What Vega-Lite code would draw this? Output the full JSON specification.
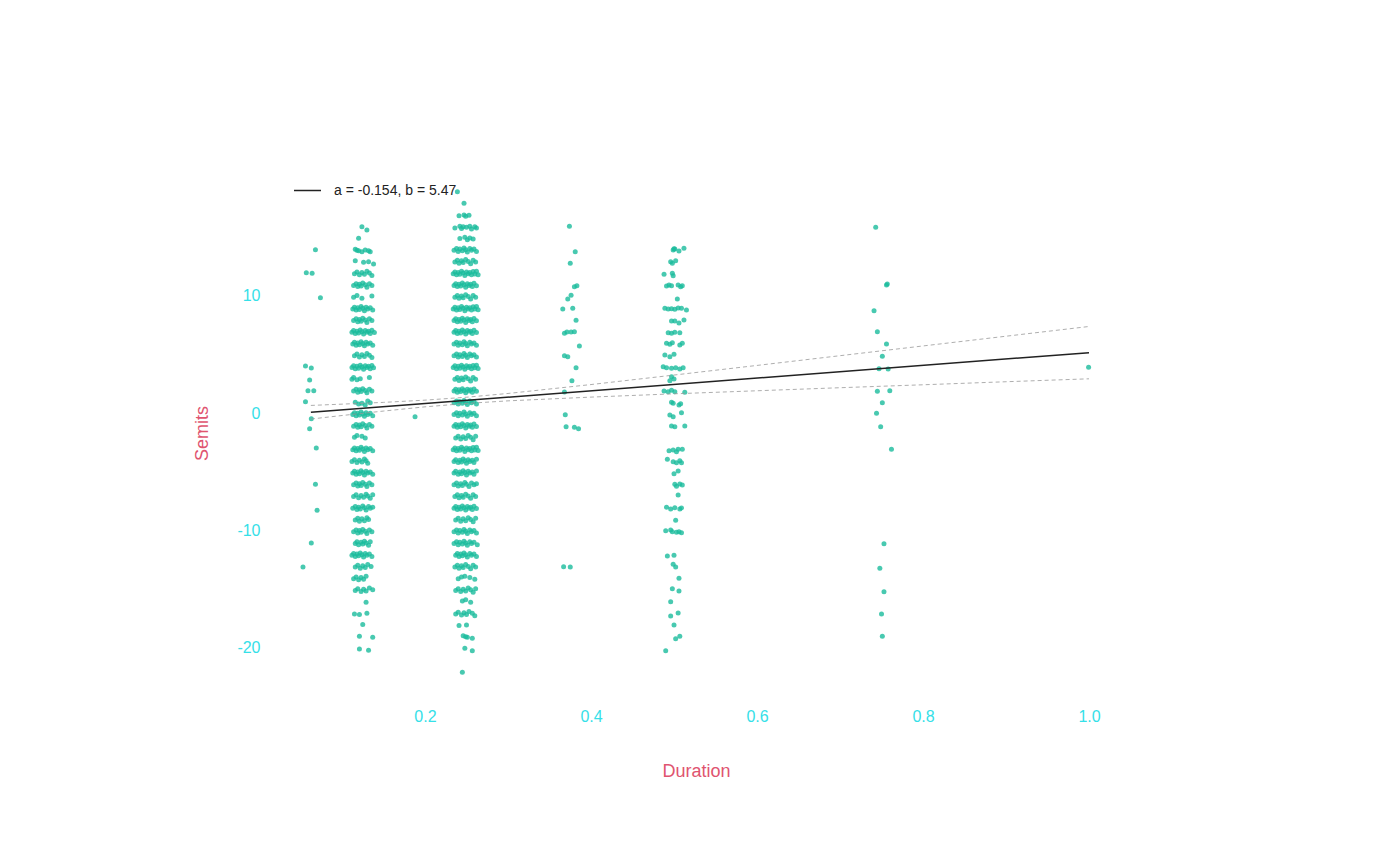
{
  "$schema": "https://vega.github.io/schema/vega-lite/v6.json",
  "description": "Semits by duration, jittered, with a linear fit",
  "width": 862,
  "height": 530,
  "autosize": "none",
  "padding": {"left": 265, "top": 168, "right": 273, "bottom": 167},
  "background": "white",
  "config": {"view": {"stroke": null}, "font": "Liberation Sans"},
  "datasets": {
    "pts": [
      {"d":0.068,"s":13.95},{"d":0.057,"s":11.99},{"d":0.064,"s":11.94},{"d":0.074,"s":9.86},{"d":0.056,"s":4.03},{"d":0.063,"s":3.86},{"d":0.061,"s":2.84},{"d":0.059,"s":1.93},{"d":0.066,"s":1.93},{"d":0.056,"s":0.99},{"d":0.063,"s":-0.46},{"d":0.061,"s":-1.31},{"d":0.069,"s":-2.96},{"d":0.068,"s":-6.05},{"d":0.07,"s":-8.27},{"d":0.063,"s":-11.06},{"d":0.053,"s":-13.1},
      {"d":0.188,"s":-0.29},

      {"d":0.124,"s":15.9},{"d":0.13,"s":15.63},{"d":0.12,"s":14.92},
      {"d":0.116,"s":13.98},{"d":0.12,"s":13.86},{"d":0.124,"s":13.78},{"d":0.128,"s":13.92},{"d":0.132,"s":13.86},{"d":0.134,"s":13.78},{"d":0.118,"s":13.9},
      {"d":0.116,"s":13.01},{"d":0.126,"s":12.87},{"d":0.132,"s":12.92},{"d":0.138,"s":12.73},
      {"d":0.115,"s":11.9},{"d":0.118,"s":12.05},{"d":0.121,"s":11.8},{"d":0.124,"s":12},{"d":0.127,"s":11.85},{"d":0.13,"s":12.1},{"d":0.133,"s":11.95},{"d":0.136,"s":11.75},
      {"d":0.114,"s":10.9},{"d":0.117,"s":11.05},{"d":0.119,"s":10.8},{"d":0.121,"s":11},{"d":0.123,"s":10.85},{"d":0.125,"s":11.1},{"d":0.128,"s":10.95},{"d":0.13,"s":10.75},{"d":0.133,"s":11.05},{"d":0.136,"s":10.9},
      {"d":0.114,"s":9.9},{"d":0.118,"s":10.05},{"d":0.124,"s":9.8},{"d":0.136,"s":10},
      {"d":0.113,"s":8.9},{"d":0.115,"s":9.05},{"d":0.117,"s":8.8},{"d":0.119,"s":9},{"d":0.121,"s":8.85},{"d":0.123,"s":9.1},{"d":0.125,"s":8.95},{"d":0.127,"s":8.75},{"d":0.129,"s":9.05},{"d":0.131,"s":8.9},{"d":0.134,"s":9},{"d":0.137,"s":8.8},
      {"d":0.114,"s":7.9},{"d":0.117,"s":8.05},{"d":0.119,"s":7.8},{"d":0.121,"s":8},{"d":0.123,"s":7.85},{"d":0.125,"s":8.1},{"d":0.128,"s":7.95},{"d":0.13,"s":7.75},{"d":0.133,"s":8.05},{"d":0.136,"s":7.9},
      {"d":0.112,"s":6.9},{"d":0.114,"s":7.05},{"d":0.116,"s":6.8},{"d":0.118,"s":7},{"d":0.12,"s":6.85},{"d":0.122,"s":7.1},{"d":0.124,"s":6.95},{"d":0.126,"s":6.75},{"d":0.128,"s":7.05},{"d":0.13,"s":6.9},{"d":0.132,"s":7},{"d":0.134,"s":6.8},{"d":0.136,"s":7.08},{"d":0.139,"s":6.88},
      {"d":0.113,"s":5.9},{"d":0.115,"s":6.05},{"d":0.117,"s":5.8},{"d":0.119,"s":6},{"d":0.121,"s":5.85},{"d":0.123,"s":6.1},{"d":0.125,"s":5.95},{"d":0.127,"s":5.75},{"d":0.129,"s":6.05},{"d":0.131,"s":5.9},{"d":0.134,"s":6},{"d":0.137,"s":5.8},
      {"d":0.115,"s":4.9},{"d":0.118,"s":5.05},{"d":0.121,"s":4.8},{"d":0.124,"s":5},{"d":0.127,"s":4.85},{"d":0.13,"s":5.1},{"d":0.133,"s":4.95},{"d":0.136,"s":4.75},
      {"d":0.112,"s":3.9},{"d":0.114,"s":4.05},{"d":0.116,"s":3.8},{"d":0.118,"s":4},{"d":0.12,"s":3.85},{"d":0.122,"s":4.1},{"d":0.124,"s":3.95},{"d":0.126,"s":3.75},{"d":0.128,"s":4.05},{"d":0.13,"s":3.9},{"d":0.132,"s":4},{"d":0.134,"s":3.8},{"d":0.136,"s":4.08},{"d":0.138,"s":3.88},
      {"d":0.112,"s":2.9},{"d":0.114,"s":3.05},{"d":0.118,"s":2.85},{"d":0.122,"s":2.95},{"d":0.133,"s":3.05},
      {"d":0.114,"s":1.9},{"d":0.117,"s":2.05},{"d":0.119,"s":1.8},{"d":0.121,"s":2},{"d":0.123,"s":1.85},{"d":0.125,"s":2.1},{"d":0.128,"s":1.95},{"d":0.13,"s":1.75},{"d":0.133,"s":2.05},{"d":0.136,"s":1.9},
      {"d":0.116,"s":0.95},{"d":0.12,"s":0.8},{"d":0.124,"s":0.85},{"d":0.128,"s":0.7},{"d":0.134,"s":0.9},{"d":0.131,"s":1.05},
      {"d":0.113,"s":-0.1},{"d":0.115,"s":0.05},{"d":0.117,"s":-0.2},{"d":0.119,"s":0},{"d":0.121,"s":-0.15},{"d":0.123,"s":0.1},{"d":0.125,"s":-0.05},{"d":0.127,"s":-0.25},{"d":0.129,"s":0.05},{"d":0.131,"s":-0.1},{"d":0.134,"s":0},{"d":0.137,"s":-0.2},
      {"d":0.114,"s":-1.1},{"d":0.117,"s":-0.95},{"d":0.119,"s":-1.2},{"d":0.121,"s":-1},{"d":0.123,"s":-1.15},{"d":0.125,"s":-0.9},{"d":0.128,"s":-1.05},{"d":0.13,"s":-1.25},{"d":0.133,"s":-0.95},{"d":0.136,"s":-1.1},
      {"d":0.115,"s":-2.05},{"d":0.118,"s":-1.9},{"d":0.124,"s":-1.95},{"d":0.128,"s":-2.1},
      {"d":0.113,"s":-3.1},{"d":0.115,"s":-2.95},{"d":0.117,"s":-3.2},{"d":0.119,"s":-3},{"d":0.121,"s":-3.15},{"d":0.123,"s":-2.9},{"d":0.125,"s":-3.05},{"d":0.127,"s":-3.25},{"d":0.129,"s":-2.95},{"d":0.131,"s":-3.1},{"d":0.134,"s":-3},{"d":0.137,"s":-3.2},
      {"d":0.112,"s":-4.1},{"d":0.115,"s":-3.95},{"d":0.118,"s":-4.2},{"d":0.121,"s":-4},{"d":0.124,"s":-4.15},{"d":0.127,"s":-3.9},{"d":0.129,"s":-4.05},{"d":0.131,"s":-4.25},
      {"d":0.113,"s":-5.1},{"d":0.115,"s":-4.95},{"d":0.117,"s":-5.2},{"d":0.119,"s":-5},{"d":0.121,"s":-5.15},{"d":0.123,"s":-4.9},{"d":0.125,"s":-5.05},{"d":0.127,"s":-5.25},{"d":0.129,"s":-4.95},{"d":0.131,"s":-5.1},{"d":0.134,"s":-5},{"d":0.137,"s":-5.2},
      {"d":0.114,"s":-6.1},{"d":0.117,"s":-5.95},{"d":0.119,"s":-6.2},{"d":0.121,"s":-6},{"d":0.123,"s":-6.15},{"d":0.125,"s":-5.9},{"d":0.128,"s":-6.05},{"d":0.13,"s":-6.25},{"d":0.133,"s":-5.95},{"d":0.136,"s":-6.1},
      {"d":0.114,"s":-7.1},{"d":0.117,"s":-6.95},{"d":0.12,"s":-7.2},{"d":0.123,"s":-7},{"d":0.126,"s":-7.15},{"d":0.129,"s":-6.9},{"d":0.131,"s":-7.05},{"d":0.134,"s":-7.25},{"d":0.137,"s":-6.95},
      {"d":0.113,"s":-8.1},{"d":0.116,"s":-7.95},{"d":0.118,"s":-8.2},{"d":0.12,"s":-8},{"d":0.122,"s":-8.15},{"d":0.125,"s":-7.9},{"d":0.127,"s":-8.05},{"d":0.129,"s":-8.25},{"d":0.132,"s":-7.95},{"d":0.134,"s":-8.1},{"d":0.137,"s":-8},
      {"d":0.116,"s":-9.1},{"d":0.119,"s":-8.95},{"d":0.121,"s":-9.2},{"d":0.124,"s":-9},{"d":0.127,"s":-9.15},{"d":0.13,"s":-8.9},{"d":0.132,"s":-9.05},
      {"d":0.114,"s":-10.1},{"d":0.117,"s":-9.95},{"d":0.119,"s":-10.2},{"d":0.121,"s":-10},{"d":0.123,"s":-10.15},{"d":0.125,"s":-9.9},{"d":0.128,"s":-10.05},{"d":0.13,"s":-10.25},{"d":0.133,"s":-9.95},{"d":0.136,"s":-10.1},
      {"d":0.116,"s":-11.1},{"d":0.118,"s":-10.95},{"d":0.12,"s":-11.2},{"d":0.123,"s":-11},{"d":0.125,"s":-11.15},{"d":0.127,"s":-10.9},{"d":0.129,"s":-11.05},{"d":0.132,"s":-11.25},{"d":0.134,"s":-10.95},
      {"d":0.112,"s":-12.1},{"d":0.114,"s":-11.95},{"d":0.116,"s":-12.2},{"d":0.118,"s":-12},{"d":0.12,"s":-12.15},{"d":0.122,"s":-11.9},{"d":0.124,"s":-12.05},{"d":0.126,"s":-12.25},{"d":0.128,"s":-11.95},{"d":0.13,"s":-12.1},{"d":0.133,"s":-12},{"d":0.136,"s":-12.2},
      {"d":0.116,"s":-13.1},{"d":0.119,"s":-12.95},{"d":0.122,"s":-13.2},{"d":0.125,"s":-13},{"d":0.128,"s":-13.15},{"d":0.131,"s":-12.9},{"d":0.135,"s":-13.05},
      {"d":0.114,"s":-14.1},{"d":0.117,"s":-13.95},{"d":0.12,"s":-14.2},{"d":0.123,"s":-14},{"d":0.126,"s":-14.15},{"d":0.129,"s":-13.9},
      {"d":0.116,"s":-15.1},{"d":0.119,"s":-14.95},{"d":0.123,"s":-15.2},{"d":0.126,"s":-15},{"d":0.129,"s":-15.15},{"d":0.133,"s":-14.9},{"d":0.137,"s":-15.05},
      {"d":0.129,"s":-16.1},
      {"d":0.115,"s":-17.1},{"d":0.121,"s":-17.15},{"d":0.13,"s":-17.05},
      {"d":0.125,"s":-18},
      {"d":0.121,"s":-19},{"d":0.137,"s":-19.1},
      {"d":0.121,"s":-20.1},{"d":0.132,"s":-20.2},

      {"d":0.239,"s":18.89},{"d":0.247,"s":17.9},
      {"d":0.241,"s":16.85},{"d":0.247,"s":16.9},{"d":0.249,"s":16.8},{"d":0.253,"s":16.88},
      {"d":0.236,"s":15.8},{"d":0.242,"s":15.95},{"d":0.244,"s":15.75},{"d":0.246,"s":15.9},{"d":0.25,"s":15.85},{"d":0.254,"s":15.95},{"d":0.256,"s":15.7},{"d":0.26,"s":15.9},{"d":0.262,"s":15.8},
      {"d":0.242,"s":14.9},{"d":0.248,"s":15},{"d":0.251,"s":14.8},{"d":0.254,"s":14.95},{"d":0.258,"s":14.85},
      {"d":0.235,"s":13.9},{"d":0.238,"s":14.05},{"d":0.24,"s":13.8},{"d":0.242,"s":14},{"d":0.245,"s":13.85},{"d":0.247,"s":14.1},{"d":0.249,"s":13.95},{"d":0.251,"s":13.75},{"d":0.254,"s":14.05},{"d":0.256,"s":13.9},{"d":0.259,"s":14},{"d":0.262,"s":13.8},
      {"d":0.236,"s":12.9},{"d":0.239,"s":13.05},{"d":0.241,"s":12.8},{"d":0.244,"s":13},{"d":0.246,"s":12.85},{"d":0.249,"s":13.1},{"d":0.252,"s":12.95},{"d":0.255,"s":12.75},{"d":0.258,"s":13.05},{"d":0.261,"s":12.9},
      {"d":0.234,"s":11.9},{"d":0.236,"s":12.05},{"d":0.238,"s":11.8},{"d":0.24,"s":12},{"d":0.242,"s":11.85},{"d":0.244,"s":12.1},{"d":0.246,"s":11.95},{"d":0.248,"s":11.75},{"d":0.25,"s":12.05},{"d":0.252,"s":11.9},{"d":0.254,"s":12},{"d":0.256,"s":11.8},{"d":0.258,"s":12.08},{"d":0.26,"s":11.88},{"d":0.262,"s":12.1},{"d":0.264,"s":11.82},
      {"d":0.235,"s":10.9},{"d":0.237,"s":11.05},{"d":0.239,"s":10.8},{"d":0.241,"s":11},{"d":0.243,"s":10.85},{"d":0.245,"s":11.1},{"d":0.247,"s":10.95},{"d":0.249,"s":10.75},{"d":0.251,"s":11.05},{"d":0.253,"s":10.9},{"d":0.255,"s":11},{"d":0.257,"s":10.8},{"d":0.259,"s":11.08},{"d":0.262,"s":10.88},
      {"d":0.236,"s":9.9},{"d":0.239,"s":10.05},{"d":0.241,"s":9.8},{"d":0.244,"s":10},{"d":0.246,"s":9.85},{"d":0.249,"s":10.1},{"d":0.252,"s":9.95},{"d":0.255,"s":9.75},{"d":0.258,"s":10.05},{"d":0.261,"s":9.9},
      {"d":0.234,"s":8.9},{"d":0.236,"s":9.05},{"d":0.238,"s":8.8},{"d":0.24,"s":9},{"d":0.242,"s":8.85},{"d":0.244,"s":9.1},{"d":0.246,"s":8.95},{"d":0.248,"s":8.75},{"d":0.25,"s":9.05},{"d":0.252,"s":8.9},{"d":0.254,"s":9},{"d":0.256,"s":8.8},{"d":0.258,"s":9.08},{"d":0.26,"s":8.88},{"d":0.262,"s":9.1},{"d":0.264,"s":8.82},
      {"d":0.235,"s":7.9},{"d":0.237,"s":8.05},{"d":0.239,"s":7.8},{"d":0.241,"s":8},{"d":0.243,"s":7.85},{"d":0.245,"s":8.1},{"d":0.247,"s":7.95},{"d":0.249,"s":7.75},{"d":0.251,"s":8.05},{"d":0.253,"s":7.9},{"d":0.255,"s":8},{"d":0.257,"s":7.8},{"d":0.259,"s":8.08},{"d":0.262,"s":7.88},
      {"d":0.235,"s":6.9},{"d":0.237,"s":7.05},{"d":0.239,"s":6.8},{"d":0.241,"s":7},{"d":0.243,"s":6.85},{"d":0.245,"s":7.1},{"d":0.247,"s":6.95},{"d":0.249,"s":6.75},{"d":0.251,"s":7.05},{"d":0.253,"s":6.9},{"d":0.255,"s":7},{"d":0.257,"s":6.8},{"d":0.259,"s":7.08},{"d":0.262,"s":6.88},
      {"d":0.235,"s":5.9},{"d":0.238,"s":6.05},{"d":0.24,"s":5.8},{"d":0.242,"s":6},{"d":0.245,"s":5.85},{"d":0.247,"s":6.1},{"d":0.249,"s":5.95},{"d":0.251,"s":5.75},{"d":0.254,"s":6.05},{"d":0.256,"s":5.9},{"d":0.259,"s":6},{"d":0.262,"s":5.8},
      {"d":0.235,"s":4.9},{"d":0.238,"s":5.05},{"d":0.24,"s":4.8},{"d":0.242,"s":5},{"d":0.245,"s":4.85},{"d":0.247,"s":5.1},{"d":0.249,"s":4.95},{"d":0.251,"s":4.75},{"d":0.254,"s":5.05},{"d":0.256,"s":4.9},{"d":0.259,"s":5},{"d":0.262,"s":4.8},
      {"d":0.234,"s":3.9},{"d":0.236,"s":4.05},{"d":0.238,"s":3.8},{"d":0.24,"s":4},{"d":0.242,"s":3.85},{"d":0.244,"s":4.1},{"d":0.246,"s":3.95},{"d":0.248,"s":3.75},{"d":0.25,"s":4.05},{"d":0.252,"s":3.9},{"d":0.254,"s":4},{"d":0.256,"s":3.8},{"d":0.258,"s":4.08},{"d":0.26,"s":3.88},{"d":0.262,"s":4.1},{"d":0.264,"s":3.82},
      {"d":0.236,"s":2.9},{"d":0.239,"s":3.05},{"d":0.241,"s":2.8},{"d":0.244,"s":3},{"d":0.246,"s":2.85},{"d":0.249,"s":3.1},{"d":0.252,"s":2.95},{"d":0.255,"s":2.75},{"d":0.258,"s":3.05},{"d":0.261,"s":2.9},
      {"d":0.235,"s":1.9},{"d":0.237,"s":2.05},{"d":0.239,"s":1.8},{"d":0.241,"s":2},{"d":0.243,"s":1.85},{"d":0.245,"s":2.1},{"d":0.247,"s":1.95},{"d":0.249,"s":1.75},{"d":0.251,"s":2.05},{"d":0.253,"s":1.9},{"d":0.255,"s":2},{"d":0.257,"s":1.8},{"d":0.259,"s":2.08},{"d":0.262,"s":1.88},
      {"d":0.235,"s":0.9},{"d":0.238,"s":1.05},{"d":0.24,"s":0.8},{"d":0.242,"s":1},{"d":0.245,"s":0.85},{"d":0.247,"s":1.1},{"d":0.249,"s":0.95},{"d":0.251,"s":0.75},{"d":0.254,"s":1.05},{"d":0.256,"s":0.9},{"d":0.259,"s":1},{"d":0.262,"s":0.8},
      {"d":0.235,"s":-0.1},{"d":0.238,"s":0.05},{"d":0.24,"s":-0.2},{"d":0.242,"s":0},{"d":0.245,"s":-0.15},{"d":0.247,"s":0.1},{"d":0.249,"s":-0.05},{"d":0.251,"s":-0.25},{"d":0.254,"s":0.05},{"d":0.256,"s":-0.1},{"d":0.259,"s":0},{"d":0.262,"s":-0.2},
      {"d":0.235,"s":-1.1},{"d":0.237,"s":-0.95},{"d":0.239,"s":-1.2},{"d":0.241,"s":-1},{"d":0.243,"s":-1.15},{"d":0.245,"s":-0.9},{"d":0.247,"s":-1.05},{"d":0.249,"s":-1.25},{"d":0.251,"s":-0.95},{"d":0.253,"s":-1.1},{"d":0.255,"s":-1},{"d":0.257,"s":-1.2},{"d":0.259,"s":-0.92},{"d":0.262,"s":-1.12},
      {"d":0.237,"s":-2.1},{"d":0.24,"s":-1.95},{"d":0.243,"s":-2.2},{"d":0.246,"s":-2},{"d":0.249,"s":-2.15},{"d":0.252,"s":-1.9},{"d":0.255,"s":-2.05},{"d":0.258,"s":-2.25},{"d":0.261,"s":-1.95},
      {"d":0.234,"s":-3.1},{"d":0.236,"s":-2.95},{"d":0.238,"s":-3.2},{"d":0.24,"s":-3},{"d":0.242,"s":-3.15},{"d":0.244,"s":-2.9},{"d":0.246,"s":-3.05},{"d":0.248,"s":-3.25},{"d":0.25,"s":-2.95},{"d":0.252,"s":-3.1},{"d":0.254,"s":-3},{"d":0.256,"s":-3.2},{"d":0.258,"s":-2.92},{"d":0.26,"s":-3.12},{"d":0.262,"s":-2.9},{"d":0.264,"s":-3.18},
      {"d":0.235,"s":-4.1},{"d":0.237,"s":-3.95},{"d":0.24,"s":-4.2},{"d":0.242,"s":-4},{"d":0.244,"s":-4.15},{"d":0.246,"s":-3.9},{"d":0.248,"s":-4.05},{"d":0.25,"s":-4.25},{"d":0.252,"s":-3.95},{"d":0.254,"s":-4.1},{"d":0.257,"s":-4},{"d":0.259,"s":-4.2},{"d":0.262,"s":-3.92},
      {"d":0.235,"s":-5.1},{"d":0.237,"s":-4.95},{"d":0.24,"s":-5.2},{"d":0.242,"s":-5},{"d":0.244,"s":-5.15},{"d":0.246,"s":-4.9},{"d":0.248,"s":-5.05},{"d":0.25,"s":-5.25},{"d":0.252,"s":-4.95},{"d":0.254,"s":-5.1},{"d":0.257,"s":-5},{"d":0.259,"s":-5.2},{"d":0.262,"s":-4.92},
      {"d":0.235,"s":-6.1},{"d":0.238,"s":-5.95},{"d":0.24,"s":-6.2},{"d":0.243,"s":-6},{"d":0.245,"s":-6.15},{"d":0.248,"s":-5.9},{"d":0.25,"s":-6.05},{"d":0.253,"s":-6.25},{"d":0.256,"s":-5.95},{"d":0.259,"s":-6.1},{"d":0.262,"s":-6},
      {"d":0.236,"s":-7.1},{"d":0.239,"s":-6.95},{"d":0.241,"s":-7.2},{"d":0.244,"s":-7},{"d":0.246,"s":-7.15},{"d":0.249,"s":-6.9},{"d":0.252,"s":-7.05},{"d":0.255,"s":-7.25},{"d":0.258,"s":-6.95},{"d":0.261,"s":-7.1},
      {"d":0.235,"s":-8.1},{"d":0.237,"s":-7.95},{"d":0.239,"s":-8.2},{"d":0.241,"s":-8},{"d":0.243,"s":-8.15},{"d":0.245,"s":-7.9},{"d":0.247,"s":-8.05},{"d":0.249,"s":-8.25},{"d":0.251,"s":-7.95},{"d":0.253,"s":-8.1},{"d":0.255,"s":-8},{"d":0.257,"s":-8.2},{"d":0.259,"s":-7.92},{"d":0.262,"s":-8.12},
      {"d":0.237,"s":-9.1},{"d":0.24,"s":-8.95},{"d":0.243,"s":-9.2},{"d":0.246,"s":-9},{"d":0.249,"s":-9.15},{"d":0.252,"s":-8.9},{"d":0.255,"s":-9.05},{"d":0.258,"s":-9.25},{"d":0.261,"s":-8.95},
      {"d":0.235,"s":-10.1},{"d":0.238,"s":-9.95},{"d":0.24,"s":-10.2},{"d":0.242,"s":-10},{"d":0.245,"s":-10.15},{"d":0.247,"s":-9.9},{"d":0.249,"s":-10.05},{"d":0.251,"s":-10.25},{"d":0.254,"s":-9.95},{"d":0.256,"s":-10.1},{"d":0.259,"s":-10},{"d":0.262,"s":-10.2},
      {"d":0.235,"s":-11.1},{"d":0.238,"s":-10.95},{"d":0.24,"s":-11.2},{"d":0.242,"s":-11},{"d":0.245,"s":-11.15},{"d":0.247,"s":-10.9},{"d":0.249,"s":-11.05},{"d":0.251,"s":-11.25},{"d":0.254,"s":-10.95},{"d":0.256,"s":-11.1},{"d":0.259,"s":-11},{"d":0.263,"s":-11.2},
      {"d":0.237,"s":-12.1},{"d":0.239,"s":-11.95},{"d":0.241,"s":-12.2},{"d":0.243,"s":-12},{"d":0.245,"s":-12.15},{"d":0.247,"s":-11.9},{"d":0.249,"s":-12.05},{"d":0.251,"s":-12.25},{"d":0.254,"s":-11.95},{"d":0.256,"s":-12.1},{"d":0.259,"s":-12},{"d":0.262,"s":-12.2},
      {"d":0.236,"s":-13.1},{"d":0.239,"s":-12.95},{"d":0.241,"s":-13.2},{"d":0.244,"s":-13},{"d":0.246,"s":-13.15},{"d":0.249,"s":-12.9},{"d":0.252,"s":-13.05},{"d":0.255,"s":-13.25},{"d":0.258,"s":-12.95},{"d":0.261,"s":-13.1},
      {"d":0.24,"s":-14.1},{"d":0.248,"s":-13.9},{"d":0.254,"s":-14},{"d":0.26,"s":-14.15},{"d":0.244,"s":-13.95},
      {"d":0.237,"s":-15.1},{"d":0.24,"s":-14.95},{"d":0.243,"s":-15.2},{"d":0.246,"s":-15},{"d":0.249,"s":-15.15},{"d":0.252,"s":-14.9},{"d":0.255,"s":-15.05},{"d":0.258,"s":-15.25},{"d":0.261,"s":-14.95},
      {"d":0.245,"s":-16},{"d":0.249,"s":-15.9},{"d":0.255,"s":-16.1},
      {"d":0.237,"s":-17.1},{"d":0.24,"s":-16.95},{"d":0.244,"s":-17.2},{"d":0.247,"s":-17},{"d":0.25,"s":-17.15},{"d":0.253,"s":-16.9},{"d":0.257,"s":-17.05},{"d":0.26,"s":-17.25},
      {"d":0.241,"s":-18.1},{"d":0.25,"s":-18.05},
      {"d":0.246,"s":-18.96},{"d":0.251,"s":-19.1},{"d":0.257,"s":-19.18},{"d":0.249,"s":-19.05},
      {"d":0.248,"s":-20.03},{"d":0.257,"s":-20.24},
      {"d":0.245,"s":-22.08},

      {"d":0.374,"s":15.94},{"d":0.381,"s":13.78},{"d":0.375,"s":12.79},{"d":0.38,"s":10.79},{"d":0.383,"s":10.88},{"d":0.376,"s":10.06},{"d":0.372,"s":9.74},{"d":0.366,"s":8.89},{"d":0.378,"s":8.95},{"d":0.382,"s":7.93},{"d":0.368,"s":6.82},{"d":0.371,"s":6.93},{"d":0.376,"s":6.93},{"d":0.38,"s":6.96},{"d":0.386,"s":5.74},{"d":0.368,"s":4.91},{"d":0.372,"s":4.83},{"d":0.382,"s":3.89},{"d":0.377,"s":2.78},{"d":0.368,"s":1.82},{"d":0.369,"s":-0.12},{"d":0.37,"s":-1.14},{"d":0.38,"s":-1.19},{"d":0.385,"s":-1.31},{"d":0.367,"s":-13.08},{"d":0.375,"s":-13.1},

      {"d":0.499,"s":13.92},{"d":0.501,"s":14},{"d":0.506,"s":13.84},{"d":0.512,"s":14.07},{"d":0.5,"s":14.02},
      {"d":0.496,"s":12.92},{"d":0.498,"s":12.79},{"d":0.502,"s":13.01},
      {"d":0.488,"s":11.85},{"d":0.498,"s":11.94},{"d":0.499,"s":11.73},
      {"d":0.491,"s":10.85},{"d":0.494,"s":10.94},{"d":0.497,"s":10.88},{"d":0.505,"s":10.94},{"d":0.508,"s":10.79},{"d":0.51,"s":10.88},
      {"d":0.504,"s":9.74},
      {"d":0.489,"s":8.95},{"d":0.493,"s":8.89},{"d":0.497,"s":8.92},{"d":0.501,"s":8.87},{"d":0.505,"s":8.98},{"d":0.509,"s":8.95},{"d":0.515,"s":8.81},
      {"d":0.497,"s":7.87},{"d":0.501,"s":7.87},{"d":0.506,"s":7.7},{"d":0.512,"s":7.95},
      {"d":0.493,"s":6.87},{"d":0.497,"s":6.82},{"d":0.501,"s":6.9},{"d":0.507,"s":6.87},
      {"d":0.491,"s":5.97},{"d":0.495,"s":5.88},{"d":0.498,"s":6.02},{"d":0.507,"s":5.82},{"d":0.51,"s":5.97},
      {"d":0.489,"s":4.97},{"d":0.495,"s":4.83},{"d":0.5,"s":5.03},
      {"d":0.487,"s":3.97},{"d":0.491,"s":3.89},{"d":0.497,"s":3.84},{"d":0.502,"s":3.89},{"d":0.507,"s":3.78},{"d":0.511,"s":3.89},
      {"d":0.497,"s":3.12},{"d":0.495,"s":2.78},{"d":0.5,"s":2.92},
      {"d":0.488,"s":1.9},{"d":0.493,"s":1.84},{"d":0.497,"s":1.96},{"d":0.501,"s":1.84},{"d":0.513,"s":1.79},
      {"d":0.497,"s":0.94},{"d":0.499,"s":0.85},{"d":0.506,"s":0.71},{"d":0.508,"s":0.82},
      {"d":0.495,"s":-0.14},{"d":0.499,"s":-0.29},{"d":0.509,"s":0.05},
      {"d":0.497,"s":-1.08},{"d":0.501,"s":-1.14},{"d":0.513,"s":-1.08},
      {"d":0.494,"s":-3.19},{"d":0.499,"s":-3.13},{"d":0.505,"s":-3.07},{"d":0.51,"s":-3.07},{"d":0.503,"s":-3.27},
      {"d":0.492,"s":-3.92},{"d":0.499,"s":-4.13},{"d":0.503,"s":-4.21},{"d":0.507,"s":-4.04},{"d":0.509,"s":-4.21},
      {"d":0.5,"s":-5.15},{"d":0.505,"s":-4.92},
      {"d":0.501,"s":-6.05},{"d":0.503,"s":-6.22},{"d":0.507,"s":-6.03},{"d":0.51,"s":-6.11},
      {"d":0.505,"s":-6.97},
      {"d":0.491,"s":-8.01},{"d":0.496,"s":-8.16},{"d":0.501,"s":-8.05},{"d":0.507,"s":-8.16},{"d":0.509,"s":-8.07},
      {"d":0.502,"s":-9.12},
      {"d":0.49,"s":-10.01},{"d":0.496,"s":-9.95},{"d":0.498,"s":-10.09},{"d":0.503,"s":-10.14},{"d":0.506,"s":-10.09},{"d":0.509,"s":-10.18},
      {"d":0.492,"s":-12.17},{"d":0.5,"s":-12.11},
      {"d":0.499,"s":-12.87},{"d":0.502,"s":-13.1},
      {"d":0.506,"s":-14.07},
      {"d":0.498,"s":-14.95},{"d":0.506,"s":-15.15},
      {"d":0.496,"s":-16.06},
      {"d":0.496,"s":-17.28},{"d":0.505,"s":-17.02},
      {"d":0.5,"s":-18.05},
      {"d":0.502,"s":-19.22},{"d":0.507,"s":-19.01},
      {"d":0.49,"s":-20.24},

      {"d":0.743,"s":15.86},{"d":0.756,"s":10.94},{"d":0.757,"s":11.02},{"d":0.741,"s":8.75},{"d":0.745,"s":6.96},{"d":0.756,"s":5.91},{"d":0.751,"s":4.86},{"d":0.747,"s":3.8},{"d":0.758,"s":3.78},{"d":0.745,"s":1.88},{"d":0.76,"s":1.93},{"d":0.751,"s":0.9},{"d":0.744,"s":0},{"d":0.749,"s":-1.14},{"d":0.762,"s":-3.07},{"d":0.753,"s":-11.12},{"d":0.748,"s":-13.21},{"d":0.753,"s":-15.21},{"d":0.75,"s":-17.11},{"d":0.751,"s":-19.01},

      {"d":0.9995,"s":3.92}
    ],
    "band": [
      {"d":0.0625,"s":0.67,"side":"upper"},{"d":0.1,"s":0.78,"side":"upper"},{"d":0.15,"s":0.93,"side":"upper"},{"d":0.2,"s":1.12,"side":"upper"},{"d":0.25,"s":1.37,"side":"upper"},{"d":0.3,"s":1.69,"side":"upper"},{"d":0.4,"s":2.45,"side":"upper"},{"d":0.5,"s":3.26,"side":"upper"},{"d":0.6,"s":4.08,"side":"upper"},{"d":0.7,"s":4.91,"side":"upper"},{"d":0.8,"s":5.74,"side":"upper"},{"d":0.9,"s":6.57,"side":"upper"},{"d":1.0,"s":7.4,"side":"upper"},
      {"d":0.0625,"s":-0.49,"side":"lower"},{"d":0.1,"s":-0.19,"side":"lower"},{"d":0.15,"s":0.19,"side":"lower"},{"d":0.2,"s":0.55,"side":"lower"},{"d":0.25,"s":0.84,"side":"lower"},{"d":0.3,"s":1.06,"side":"lower"},{"d":0.4,"s":1.38,"side":"lower"},{"d":0.5,"s":1.66,"side":"lower"},{"d":0.6,"s":1.92,"side":"lower"},{"d":0.7,"s":2.18,"side":"lower"},{"d":0.8,"s":2.43,"side":"lower"},{"d":0.9,"s":2.69,"side":"lower"},{"d":1.0,"s":2.94,"side":"lower"}
    ],
    "fit": [
      {"d":0.0625,"s":0.09,"label":"a = -0.154, b = 5.47"},
      {"d":1.0,"s":5.17,"label":"a = -0.154, b = 5.47"}
    ]
  },
  "encoding": {
    "x": {
      "field": "d",
      "type": "quantitative",
      "scale": {"domain": [0.00723, 1.04578], "nice": false, "zero": false},
      "axis": {
        "title": "Duration",
        "values": [0.2, 0.4, 0.6, 0.8, 1.0],
        "format": ".1f",
        "grid": false,
        "domain": false,
        "ticks": false,
        "labelColor": "#35e0e8",
        "labelFontSize": 16,
        "labelPadding": 10,
        "titleColor": "#df5470",
        "titleFontSize": 18,
        "titleFontWeight": "normal",
        "titlePadding": 38
      }
    },
    "y": {
      "field": "s",
      "type": "quantitative",
      "scale": {"domain": [-24.27, 20.91], "nice": false, "zero": false},
      "axis": {
        "title": "Semits",
        "values": [-20, -10, 0, 10],
        "labelExpr": "'' + datum.value",
        "grid": false,
        "domain": false,
        "ticks": false,
        "labelColor": "#35e0e8",
        "labelFontSize": 16,
        "labelPadding": 5,
        "titleColor": "#df5470",
        "titleFontSize": 18,
        "titleFontWeight": "normal",
        "titlePadding": 25
      }
    }
  },
  "layer": [
    {
      "data": {"name": "pts"},
      "mark": {"type": "circle", "size": 25, "opacity": 0.8, "color": "#1abc9c"}
    },
    {
      "data": {"name": "band"},
      "mark": {"type": "line", "color": "#999999", "strokeWidth": 0.8, "strokeDash": [4, 3]},
      "encoding": {"detail": {"field": "side", "type": "nominal"}}
    },
    {
      "data": {"name": "fit"},
      "mark": {"type": "line", "strokeWidth": 1.5},
      "encoding": {
        "stroke": {
          "field": "label",
          "type": "nominal",
          "scale": {"range": ["#222222"]},
          "legend": {
            "title": null,
            "orient": "none",
            "legendX": 28,
            "legendY": 8,
            "padding": 0,
            "symbolType": "stroke",
            "symbolSize": 729,
            "symbolStrokeWidth": 1.5,
            "labelFontSize": 14,
            "labelColor": "#222222",
            "labelOffset": 12
          }
        }
      }
    }
  ]
}
